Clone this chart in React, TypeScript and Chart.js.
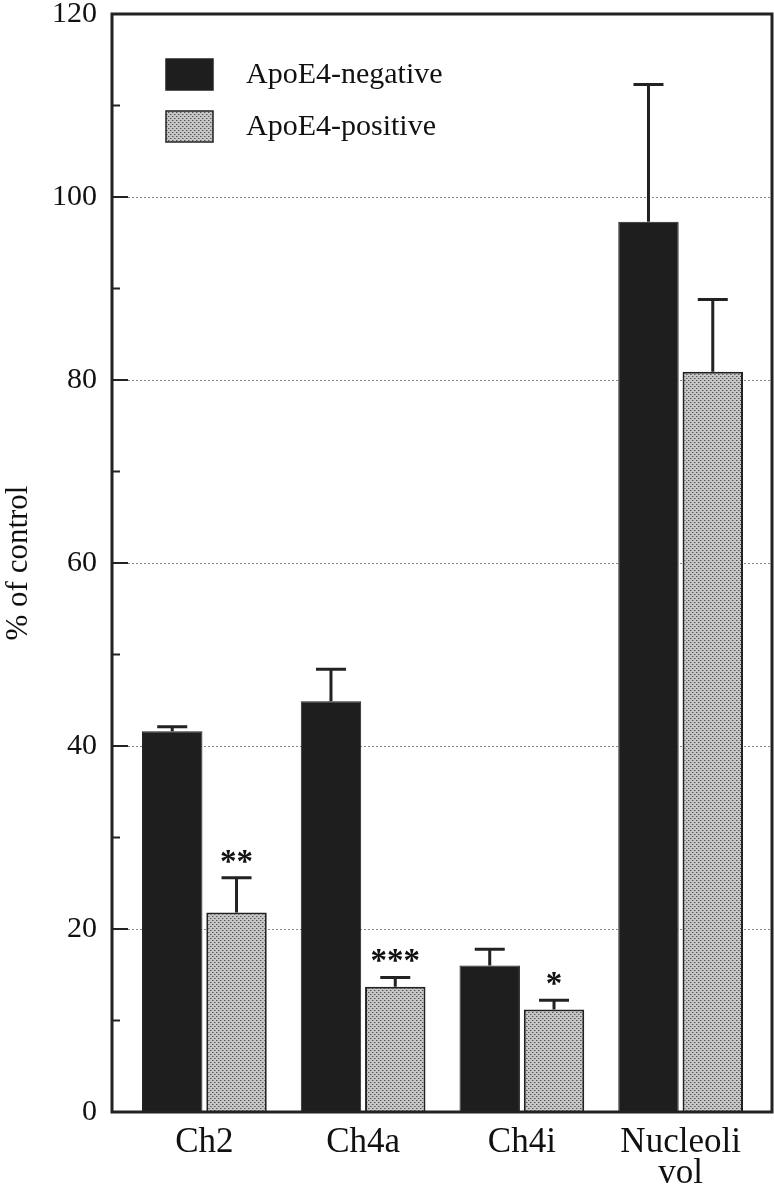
import React, { useEffect, useRef } from "react";
import { Chart, registerables } from "chart.js";

Chart.register(...registerables);

const categories = [["Ch2"], ["Ch4a"], ["Ch4i"], ["Nucleoli", "vol"]];
const seriesNames = ["ApoE4-negative", "ApoE4-positive"];
const negativeValues = [41.6, 44.9, 16.0, 97.3];
const negativeErrors = [0.5, 3.5, 1.8, 15.0];
const positiveValues = [21.8, 13.7, 11.2, 80.9];
const positiveErrors = [3.8, 1.0, 1.0, 7.9];
const positiveMarks = ["**", "***", "*", ""];
const yMajorTicks = [0, 20, 40, 60, 80, 100, 120];
const yMinorTicks = [10, 30, 50, 70, 90, 110];
const gridValues = [20, 40, 60, 80, 100];

const FONT = "'Liberation Serif', 'Times New Roman', serif";
const INK = "#111111";

function makePattern(): CanvasPattern | string {
  const c = document.createElement("canvas");
  c.width = 4;
  c.height = 4;
  const g = c.getContext("2d");
  if (!g) return "#b0b0b0";
  g.fillStyle = "#c6c6c6";
  g.fillRect(0, 0, 4, 4);
  g.fillStyle = "#555555";
  g.fillRect(0, 0, 1, 1);
  g.fillRect(2, 2, 1, 1);
  g.fillStyle = "#909090";
  g.fillRect(1, 0, 1, 1);
  g.fillRect(3, 2, 1, 1);
  const p = g.createPattern(c, "repeat");
  return p || "#b0b0b0";
}

export default function App() {
  const ref = useRef<HTMLCanvasElement | null>(null);

  useEffect(() => {
    const canvas = ref.current;
    if (!canvas) return;
    const pattern = makePattern();
    const errorsBySet = [negativeErrors, positiveErrors];
    const valuesBySet = [negativeValues, positiveValues];

    const frameOf = (chart: any) => {
      const a = chart.chartArea;
      return { left: a.left - 13, right: a.right + 12, top: a.top, bottom: a.bottom };
    };

    const decor = {
      id: "decor",
      beforeDatasetsDraw(chart: any) {
        const ctx = chart.ctx;
        const f = frameOf(chart);
        const y = chart.scales.y;
        ctx.save();
        ctx.strokeStyle = "#8a8a8a";
        ctx.lineWidth = 1;
        ctx.setLineDash([2, 2]);
        gridValues.forEach((v) => {
          const py = Math.round(y.getPixelForValue(v)) + 0.5;
          ctx.beginPath();
          ctx.moveTo(f.left, py);
          ctx.lineTo(f.right, py);
          ctx.stroke();
        });
        ctx.restore();
      },
      afterDatasetsDraw(chart: any) {
        const ctx = chart.ctx;
        const f = frameOf(chart);
        const y = chart.scales.y;
        ctx.save();
        // error bars
        ctx.strokeStyle = "#222222";
        ctx.lineWidth = 3;
        chart.data.datasets.forEach((ds: any, di: number) => {
          const meta = chart.getDatasetMeta(di);
          meta.data.forEach((bar: any, i: number) => {
            const top = y.getPixelForValue(valuesBySet[di][i] + errorsBySet[di][i]);
            ctx.beginPath();
            ctx.moveTo(bar.x, bar.y);
            ctx.lineTo(bar.x, top);
            ctx.moveTo(bar.x - 15, top);
            ctx.lineTo(bar.x + 15, top);
            ctx.stroke();
            if (di === 1 && positiveMarks[i]) {
              ctx.fillStyle = INK;
              ctx.font = `bold 33px ${FONT}`;
              ctx.textAlign = "center";
              ctx.textBaseline = "alphabetic";
              ctx.fillText(positiveMarks[i], bar.x, top - 6);
            }
          });
        });
        // frame
        ctx.lineWidth = 3;
        ctx.strokeStyle = "#222222";
        ctx.strokeRect(f.left, f.top, f.right - f.left, f.bottom - f.top);
        // inner ticks
        ctx.lineWidth = 2;
        yMajorTicks.forEach((v) => {
          const py = y.getPixelForValue(v);
          ctx.beginPath();
          ctx.moveTo(f.left, py);
          ctx.lineTo(f.left + 16, py);
          ctx.stroke();
        });
        yMinorTicks.forEach((v) => {
          const py = y.getPixelForValue(v);
          ctx.beginPath();
          ctx.moveTo(f.left, py);
          ctx.lineTo(f.left + 8, py);
          ctx.stroke();
        });
        // legend
        const fills = ["#1e1e1e", pattern];
        ctx.font = `30px ${FONT}`;
        ctx.textAlign = "left";
        ctx.textBaseline = "middle";
        seriesNames.forEach((name, i) => {
          const bx = f.left + 54;
          const by = f.top + 45 + i * 52;
          ctx.fillStyle = fills[i] as any;
          ctx.fillRect(bx, by, 47, 31);
          ctx.lineWidth = 1.5;
          ctx.strokeStyle = "#222222";
          ctx.strokeRect(bx, by, 47, 31);
          ctx.fillStyle = INK;
          ctx.fillText(name, f.left + 134, by + 16);
        });
        ctx.restore();
      },
    };

    const chart = new Chart(canvas, {
      type: "bar",
      data: {
        labels: categories as any,
        datasets: [
          {
            label: seriesNames[0],
            data: negativeValues,
            backgroundColor: "#1e1e1e",
            borderColor: "#222222",
            borderWidth: 1,
            categoryPercentage: 0.81,
            barPercentage: 0.94,
          },
          {
            label: seriesNames[1],
            data: positiveValues,
            backgroundColor: pattern as any,
            borderColor: "#222222",
            borderWidth: 2,
            categoryPercentage: 0.81,
            barPercentage: 0.94,
          },
        ],
      },
      options: {
        responsive: false,
        animation: false,
        layout: { padding: { top: 14, right: 14, bottom: 0, left: 0 } },
        plugins: {
          legend: { display: false },
          tooltip: { enabled: false },
        },
        scales: {
          x: {
            type: "category",
            offset: true,
            grid: { display: false, drawTicks: false },
            border: { display: false },
            ticks: {
              font: { family: FONT, size: 35, lineHeight: 0.9 },
              color: INK,
              padding: 15,
              maxRotation: 0,
              autoSkip: false,
            },
            afterFit(s: any) {
              s.height = 77;
              s.paddingLeft = 0;
              s.paddingRight = 0;
            },
          },
          y: {
            min: 0,
            max: 120,
            ticks: {
              stepSize: 20,
              font: { family: FONT, size: 30 },
              color: INK,
              padding: 28,
            },
            grid: { display: false, drawTicks: false },
            border: { display: false },
            title: {
              display: true,
              text: "% of control",
              font: { family: FONT, size: 31 },
              color: INK,
              padding: 0,
            },
            afterFit(s: any) {
              s.width = 125;
              s.paddingTop = 0;
              s.paddingBottom = 0;
            },
          },
        },
      },
      plugins: [decor],
    });

    return () => chart.destroy();
  }, []);

  return (
    <div style={{ position: "absolute", left: 0, top: 0, width: 774, height: 1189, background: "#fff" }}>
      <canvas ref={ref} width={774} height={1189} style={{ display: "block", width: 774, height: 1189 }} />
    </div>
  );
}
